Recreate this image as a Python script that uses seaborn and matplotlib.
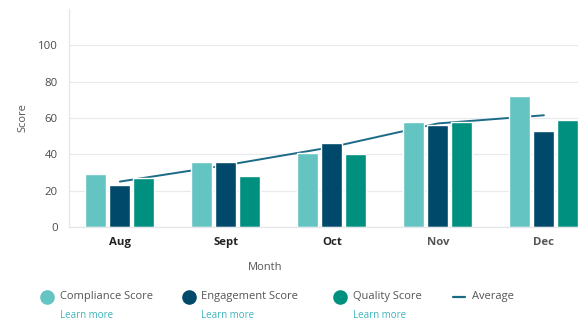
import numpy as np
import pandas as pd
import matplotlib
matplotlib.use("Agg")
import matplotlib.pyplot as plt
from matplotlib.lines import Line2D
import seaborn as sns

# Monthly scores
months = ["Aug", "Sept", "Oct", "Nov", "Dec"]
compliance = [29, 36, 41, 58, 72]
engagement = [23, 36, 46, 56, 53]
quality = [27, 28, 40, 58, 59]
average = [25, 34, 44, 57, 61.5]

series_names = ["Compliance Score", "Engagement Score", "Quality Score"]
series_colors = ["#64c4c1", "#00496a", "#00907f"]
line_color = "#1b6a86"
link_color = "#3db5bd"

sns.set_theme(style="white")
plt.rcParams["font.family"] = ["Open Sans", "DejaVu Sans"]

df = pd.DataFrame({
    "Month": months * 3,
    "Score": compliance + engagement + quality,
    "Series": [s for s in series_names for _ in months],
})

fig = plt.figure(figsize=(5.78, 3.23), dpi=100)
W, H = 578, 323
ax_left, ax_bottom = 69, 227
x_lo, x_hi = -0.48, 4.5
unit_px = 106
ax_w = (x_hi - x_lo) * unit_px
ax_h = 218
ax = fig.add_axes([ax_left / W, (H - ax_bottom) / H, ax_w / W, ax_h / H])

# Average trend line sits behind the bars
sns.lineplot(x=np.arange(len(months)), y=average, ax=ax, color=line_color,
             linewidth=1.4, zorder=1, sort=False)

sns.barplot(data=df, x="Month", y="Score", hue="Series", order=months,
            hue_order=series_names, palette=series_colors, width=0.68,
            gap=0.12, ax=ax, legend=False, zorder=2, saturation=1)

ax.set_xlim(x_lo, x_hi)
ax.set_ylim(0, 120)
ax.set_yticks([0, 20, 40, 60, 80, 100])
ax.yaxis.grid(True, color="#e8ebee", linewidth=0.9)
ax.set_axisbelow(True)
for side in ["top", "right"]:
    ax.spines[side].set_visible(False)
ax.spines["left"].set_color("#e3e6ea")
ax.spines["bottom"].set_color("#e3e6ea")
ax.spines["left"].set_linewidth(0.9)
ax.spines["bottom"].set_linewidth(0.9)

ax.tick_params(axis="y", length=0, pad=8, labelsize=8.2, labelcolor="#4a4a4a")
ax.tick_params(axis="x", length=0, pad=7)
ax.set_xticks(range(len(months)))
ax.set_xticklabels(months, fontsize=8.2, fontweight="bold")
for lbl, col in zip(ax.get_xticklabels(), ["#222222", "#222222", "#222222", "#555555", "#555555"]):
    lbl.set_color(col)

ax.set_xlabel("")
ax.set_ylabel("")
fig.text(23 / W, 1 - 118 / H, "Score", rotation=90, ha="center", va="center",
         fontsize=8, color="#555555")
fig.text(265 / W, 1 - 267 / H, "Month", ha="center", va="center",
         fontsize=8, color="#555555")

# Legend row with links underneath
legend_y = 1 - 297 / H
link_y = 1 - 316 / H
entries = [
    (47, 60, series_names[0], series_colors[0], True),
    (189, 201, series_names[1], series_colors[1], True),
    (340, 353, series_names[2], series_colors[2], True),
]
for cx, tx, name, col, link in entries:
    fig.add_artist(Line2D([cx / W], [legend_y], marker="o", markersize=9.5,
                          color=col, linestyle="none", transform=fig.transFigure))
    fig.text(tx / W, legend_y, name, ha="left", va="center", fontsize=8,
             color="#555555")
    if link:
        fig.text(tx / W, link_y, "Learn more", ha="left", va="center",
                 fontsize=7, color=link_color)

fig.add_artist(Line2D([453 / W, 465 / W], [legend_y, legend_y], color=line_color,
                      linewidth=1.6, transform=fig.transFigure))
fig.text(472 / W, legend_y, "Average", ha="left", va="center", fontsize=8,
         color="#555555")

fig.savefig("out.png", dpi=100)
